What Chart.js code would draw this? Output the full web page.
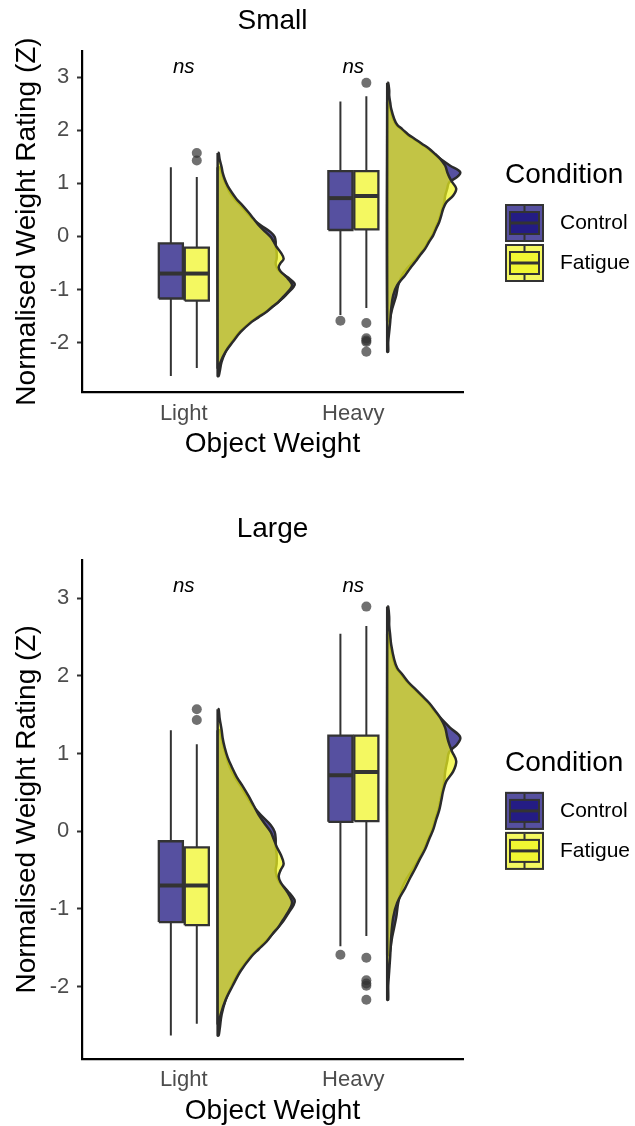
<!DOCTYPE html>
<html>
<head>
<meta charset="utf-8">
<script src="https://cdn.jsdelivr.net/npm/chart.js@4.4.1/dist/chart.umd.min.js"></script>
<style>
html, body { margin: 0; padding: 0; background: #ffffff; overflow: hidden; }
canvas { display: block; }
</style>
</head>
<body>
<canvas id="chartSmall" width="635" height="480"></canvas>
<canvas id="chartLarge" width="635" height="646"></canvas>
<script>
// ---------------- DATA ----------------
const panelTitles = ['Small', 'Large'];
const categories = ['Light', 'Heavy'];
const conditions = ['Control', 'Fatigue'];
const yTicks = [-2, -1, 0, 1, 2, 3];
const xAxisTitle = 'Object Weight';
const yAxisTitle = 'Normalised Weight Rating (Z)';
const legendTitle = 'Condition';
const signifLabels = ['ns', 'ns'];
const signifY = [3.08, 3.08];

// box-plot statistics, index = category (Light, Heavy)
const controlQ1 = [-1.17, 0.12];
const controlMedian = [-0.70, 0.72];
const controlQ3 = [-0.13, 1.23];
const controlLow = [-2.63, -1.48];
const controlHigh = [1.30, 2.54];
const controlOutliers = [[], [-1.59]];

const fatigueQ1 = [-1.21, 0.13];
const fatigueMedian = [-0.70, 0.76];
const fatigueQ3 = [-0.21, 1.23];
const fatigueLow = [-2.48, -1.35];
const fatigueHigh = [1.12, 2.64];
const fatigueOutliers = [[1.43, 1.57], [2.89, -1.63, -1.92, -1.96, -1.99, -2.17]];

// half-violin density estimates (relative units)
const lightControlY = [1.30, 1.20, 1.08, 0.95, 0.83, 0.70, 0.58, 0.45, 0.33, 0.21, 0.08, -0.01, -0.10, -0.20, -0.30, -0.42, -0.50, -0.58, -0.66, -0.77, -0.89, -0.95, -1.05, -1.15, -1.23, -1.32, -1.42, -1.52, -1.61, -1.80, -1.99, -2.17, -2.36, -2.55, -2.63];
const lightControlDensity = [2, 4, 6, 9, 12, 17, 23, 29, 35, 43, 53, 57, 58, 58, 59, 59, 58, 59, 62, 70, 77, 76, 71, 66, 61, 55, 48, 40, 33, 22, 14, 8, 4, 2, 1];

const lightFatigueY = [1.57, 1.45, 1.30, 1.20, 1.08, 0.95, 0.83, 0.70, 0.58, 0.45, 0.33, 0.21, 0.08, -0.01, -0.10, -0.20, -0.30, -0.42, -0.50, -0.58, -0.66, -0.77, -0.89, -0.95, -1.05, -1.15, -1.23, -1.32, -1.42, -1.52, -1.61, -1.80, -1.99, -2.17, -2.36, -2.48];
const lightFatigueDensity = [1, 2, 4, 5, 7, 10, 14, 19, 25, 31, 36, 41, 48, 53, 56, 59, 63, 66, 63, 61, 63, 69, 74, 74, 70, 65, 61, 55, 49, 41, 34, 23, 15, 8, 3, 1];

const heavyControlY = [2.54, 2.40, 2.21, 2.10, 2.02, 1.92, 1.83, 1.74, 1.65, 1.55, 1.46, 1.33, 1.21, 1.12, 1.02, 0.90, 0.77, 0.64, 0.52, 0.39, 0.27, 0.15, 0.02, -0.10, -0.23, -0.35, -0.48, -0.60, -0.73, -0.92, -1.11, -1.36, -1.59];
const heavyControlDensity = [1, 3, 6, 9, 14, 20, 27, 34, 41, 47, 53, 63, 73, 70, 62, 60, 58, 57, 55, 53, 51, 48, 45, 41, 37, 32, 26, 20, 15, 11, 9, 5, 2];

const heavyFatigueY = [2.89, 2.75, 2.65, 2.52, 2.40, 2.21, 2.10, 2.02, 1.92, 1.83, 1.74, 1.65, 1.55, 1.46, 1.33, 1.21, 1.12, 1.02, 0.90, 0.77, 0.64, 0.52, 0.39, 0.27, 0.15, 0.02, -0.10, -0.23, -0.35, -0.48, -0.60, -0.73, -0.92, -1.11, -1.36, -1.61, -1.80, -1.99, -2.17];
const heavyFatigueDensity = [1, 2, 2, 3, 4, 7, 10, 15, 21, 28, 35, 42, 48, 53, 58, 60, 62, 65, 69, 66, 59, 56, 54, 52, 49, 46, 42, 38, 33, 28, 23, 18, 10, 6, 4, 3, 2, 1, 1];

// ---------------- STYLE / GEOMETRY ----------------
const FONT = "'Liberation Sans', Arial, Helvetica, sans-serif";
Chart.defaults.font.family = FONT;
Chart.defaults.color = '#000000';

const FILLS = ['rgba(14,5,120,0.7)', 'rgba(240,245,30,0.7)'];
const OUTLINE = '#333333';
const VIOLIN_OUTLINE = '#2b2b2b';
const X_MIN = 0.4, X_MAX = 2.647;
const Y_MIN = -2.93, Y_MAX = 3.49;
const DODGE = [-0.076, 0.077];
const HALF_BOX = 0.071;
const VIOLIN_OFFSET = 0.2;
const DENSITY_SCALE = 1 / 169.5;

const groups = [
  { q1: controlQ1, med: controlMedian, q3: controlQ3, lo: controlLow, hi: controlHigh, out: controlOutliers,
    vy: [lightControlY, heavyControlY], vd: [lightControlDensity, heavyControlDensity] },
  { q1: fatigueQ1, med: fatigueMedian, q3: fatigueQ3, lo: fatigueLow, hi: fatigueHigh, out: fatigueOutliers,
    vy: [lightFatigueY, heavyFatigueY], vd: [lightFatigueDensity, heavyFatigueDensity] }
];

function makeDatasets() {
  const list = [];
  // half violins (control first, fatigue on top)
  for (let c = 0; c < categories.length; c++) {
    for (let g = 0; g < conditions.length; g++) {
      const ys = groups[g].vy[c], ds = groups[g].vd[c];
      const base = c + 1 + VIOLIN_OFFSET;
      const pts = [{ x: base, y: ys[0] }];
      ys.forEach((y, i) => pts.push({ x: base + ds[i] * DENSITY_SCALE, y: y }));
      pts.push({ x: base, y: ys[ys.length - 1] });
      pts.push({ x: base, y: ys[0] });
      list.push({ label: conditions[g] + ' density ' + categories[c], data: pts, fill: 'shape',
        backgroundColor: FILLS[g], borderColor: VIOLIN_OUTLINE, borderWidth: 2.5, tension: 0.35,
        borderJoinStyle: 'round' });
    }
  }
  // box plots
  for (let c = 0; c < categories.length; c++) {
    for (let g = 0; g < conditions.length; g++) {
      const s = groups[g];
      const xc = c + 1 + DODGE[g];
      list.push({ label: 'whisker', data: [
          { x: xc, y: s.q3[c] }, { x: xc, y: s.hi[c] }, { x: xc, y: null },
          { x: xc, y: s.q1[c] }, { x: xc, y: s.lo[c] }],
        borderColor: OUTLINE, borderWidth: 2, fill: false, spanGaps: false, tension: 0 });
      list.push({ label: 'box', data: [
          { x: xc - HALF_BOX, y: s.q1[c] }, { x: xc + HALF_BOX, y: s.q1[c] },
          { x: xc + HALF_BOX, y: s.q3[c] }, { x: xc - HALF_BOX, y: s.q3[c] },
          { x: xc - HALF_BOX, y: s.q1[c] }],
        fill: 'shape', backgroundColor: FILLS[g], borderColor: OUTLINE, borderWidth: 2.3,
        borderJoinStyle: 'miter', tension: 0 });
      list.push({ label: 'median', data: [
          { x: xc - HALF_BOX, y: s.med[c] }, { x: xc + HALF_BOX, y: s.med[c] }],
        borderColor: OUTLINE, borderWidth: 4, fill: false, tension: 0 });
    }
  }
  // outliers
  const outPts = [];
  for (let c = 0; c < categories.length; c++) {
    for (let g = 0; g < conditions.length; g++) {
      groups[g].out[c].forEach(v => outPts.push({ x: c + 1 + DODGE[g], y: v }));
    }
  }
  list.push({ label: 'outliers', data: outPts, showLine: false, pointRadius: 5,
    pointBackgroundColor: 'rgba(51,51,51,0.7)', pointBorderWidth: 0 });

  list.forEach((d, i) => {
    d.order = list.length - i;
    if (d.pointRadius === undefined) d.pointRadius = 0;
    d.pointHoverRadius = 0;
  });
  return list;
}

const extrasPlugin = {
  id: 'extras',
  afterDatasetsDraw(chart) {
    const { ctx, scales } = chart;
    ctx.save();
    ctx.font = 'italic 20.5px ' + FONT;
    ctx.fillStyle = '#000000';
    ctx.textAlign = 'center';
    ctx.textBaseline = 'alphabetic';
    signifLabels.forEach((t, i) => {
      ctx.fillText(t, scales.x.getPixelForValue(i + 1), scales.y.getPixelForValue(signifY[i]));
    });
    ctx.restore();
  },
  afterDraw(chart) {
    const { ctx, chartArea } = chart;
    const cy = (chartArea.top + chartArea.bottom) / 2;
    const lx = chartArea.right + 42;
    ctx.save();
    ctx.fillStyle = '#000000';
    ctx.textAlign = 'left';
    ctx.textBaseline = 'middle';
    ctx.font = '28px ' + FONT;
    ctx.fillText(legendTitle, lx, cy - 46.2);
    conditions.forEach((name, g) => {
      const top = cy - 17.5 + g * 40;
      const w = 39, h = 38;
      ctx.fillStyle = FILLS[g];
      ctx.fillRect(lx, top, w, h);
      ctx.strokeStyle = OUTLINE;
      ctx.lineWidth = 2;
      ctx.strokeRect(lx + 1, top + 1, w - 2, h - 2);
      const bx = lx + 5, bw = w - 10, by = top + 8, bh = h - 16;
      ctx.fillStyle = FILLS[g];
      ctx.fillRect(bx, by, bw, bh);
      ctx.strokeRect(bx, by, bw, bh);
      ctx.lineWidth = 3;
      ctx.beginPath();
      ctx.moveTo(bx, by + bh / 2); ctx.lineTo(bx + bw, by + bh / 2);
      ctx.stroke();
      ctx.lineWidth = 2;
      ctx.beginPath();
      ctx.moveTo(lx + w / 2, top + 2); ctx.lineTo(lx + w / 2, by);
      ctx.moveTo(lx + w / 2, by + bh); ctx.lineTo(lx + w / 2, top + h - 2);
      ctx.stroke();
      ctx.fillStyle = '#000000';
      ctx.font = '21px ' + FONT;
      ctx.fillText(name, lx + 55, top + h / 2);
    });
    ctx.restore();
  }
};

function makeChart(canvasId, panelIndex, L) {
  return new Chart(document.getElementById(canvasId), {
    type: 'line',
    data: { datasets: makeDatasets() },
    options: {
      responsive: false,
      animation: false,
      devicePixelRatio: 1,
      events: [],
      layout: { padding: { left: 0, right: 172, top: 0, bottom: 0 } },
      plugins: {
        legend: { display: false },
        tooltip: { enabled: false },
        title: { display: true, text: panelTitles[panelIndex], fullSize: false, color: '#000000',
          font: { size: 28, weight: 'normal' }, padding: { top: L.titleTop, bottom: L.titleBottom } }
      },
      scales: {
        x: {
          type: 'linear', min: X_MIN, max: X_MAX,
          afterFit: s => { s.height = L.height - L.plotBottom; },
          afterBuildTicks: s => { s.ticks = categories.map((_, i) => ({ value: i + 1 })); },
          ticks: { callback: v => categories[Math.round(v) - 1], padding: L.xTickPad, color: '#4D4D4D',
            font: { size: 22 }, autoSkip: false, maxRotation: 0 },
          grid: { display: false, drawTicks: false },
          border: { display: true, color: '#000000', width: 2.2 },
          title: { display: true, text: xAxisTitle, color: '#000000', font: { size: 28, lineHeight: 1 },
            padding: { top: 0, bottom: L.xTitleBottom } }
        },
        y: {
          type: 'linear', min: Y_MIN, max: Y_MAX,
          afterFit: s => { s.width = 82; },
          afterBuildTicks: s => { s.ticks = yTicks.map(v => ({ value: v })); },
          ticks: { callback: v => String(v), padding: 7.7, color: '#4D4D4D', font: { size: 22 } },
          grid: { display: true, drawOnChartArea: false, drawTicks: true, tickLength: 5,
            tickColor: '#333333', tickWidth: 2 },
          border: { display: true, color: '#000000', width: 2.2 },
          title: { display: true, text: yAxisTitle, color: '#000000', font: { size: 28 },
            padding: { top: 10.7, bottom: 0 } }
        }
      }
    },
    plugins: [extrasPlugin]
  });
}

makeChart('chartSmall', 0, { height: 480, plotBottom: 392, titleTop: 4.4, titleBottom: 13, xTickPad: 9, xTitleBottom: 21.3 });
makeChart('chartLarge', 1, { height: 646, plotBottom: 578.8, titleTop: 32.8, titleBottom: 13.6, xTickPad: 8, xTitleBottom: 1.2 });
</script>
</body>
</html>
